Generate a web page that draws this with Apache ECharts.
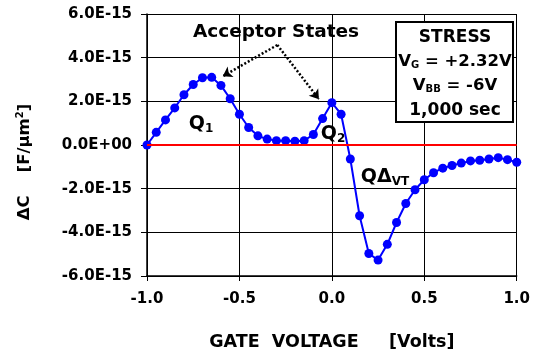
<!DOCTYPE html>
<html>
<head>
<meta charset="utf-8">
<script src="https://cdn.jsdelivr.net/npm/echarts@6/dist/echarts.min.js"></script>
<style>html,body{margin:0;padding:0;background:#fff;}#chart{width:533px;height:356px;}</style>
</head>
<body>
<div id="chart"></div>
<script>
// Gate voltage (V)
var gateVoltage = [-1.00,-0.95,-0.90,-0.85,-0.80,-0.75,-0.70,-0.65,-0.60,-0.55,-0.50,-0.45,-0.40,-0.35,-0.30,-0.25,-0.20,-0.15,-0.10,-0.05,0.00,0.05,0.10,0.15,0.20,0.25,0.30,0.35,0.40,0.45,0.50,0.55,0.60,0.65,0.70,0.75,0.80,0.85,0.90,0.95,1.00];
// Delta C in units of 1E-15 F/um^2
var deltaC = [0.00,0.58,1.15,1.70,2.30,2.77,3.08,3.10,2.73,2.12,1.41,0.80,0.42,0.27,0.20,0.20,0.17,0.20,0.48,1.21,1.94,1.41,-0.64,-3.24,-4.97,-5.27,-4.55,-3.55,-2.68,-2.05,-1.59,-1.27,-1.06,-0.94,-0.83,-0.73,-0.70,-0.64,-0.58,-0.67,-0.79];
var xTicks = [-1.0,-0.5,0.0,0.5,1.0];
var yTicks = [-6,-4,-2,0,2,4,6];
var stressLines = ['STRESS','V{s|G} = +2.32V','V{s|BB} = -6V','1,000 sec'];

var FONT = 'DejaVu Sans';
var chart = echarts.init(document.getElementById('chart'), null, {renderer:'canvas'});
var pts = gateVoltage.map(function(v,i){return [v, deltaC[i]];});

var subRich = {
  b:{fontFamily:FONT,fontWeight:'bold',fontSize:19,lineHeight:22,color:'#000'},
  s:{fontFamily:FONT,fontWeight:'bold',fontSize:12,lineHeight:11,verticalAlign:'bottom',color:'#000'}
};
var legRich = {
  s:{fontFamily:FONT,fontWeight:'bold',fontSize:10,lineHeight:10,verticalAlign:'bottom',color:'#000'}
};

var option = {
  animation:false,
  backgroundColor:'#fff',
  grid:{left:147,right:13,top:14,bottom:79},
  xAxis:{
    type:'value',min:xTicks[0],max:xTicks[xTicks.length-1],interval:0.5,
    axisLine:{onZero:false,lineStyle:{color:'#000',width:1.5}},
    axisTick:{show:true,length:5,lineStyle:{color:'#000',width:1}},
    splitLine:{show:true,lineStyle:{color:'#000',width:1}},
    axisLabel:{margin:16,fontFamily:FONT,fontWeight:'bold',fontSize:15,color:'#000',
      formatter:function(v){return v.toFixed(1);}},
    name:'GATE  VOLTAGE     [Volts]',nameLocation:'middle',nameGap:57,
    nameTextStyle:{fontFamily:FONT,fontWeight:'bold',fontSize:17.5,color:'#000'}
  },
  yAxis:{
    type:'value',min:yTicks[0],max:yTicks[yTicks.length-1],interval:2,
    axisLine:{onZero:false,lineStyle:{color:'#000',width:1.5}},
    axisTick:{show:true,length:6,lineStyle:{color:'#000',width:1}},
    splitLine:{show:true,lineStyle:{color:'#000',width:1}},
    axisLabel:{margin:15,fontFamily:FONT,fontWeight:'bold',fontSize:15,color:'#000',
      formatter:function(v){return v===0?'0.0E+00':v.toFixed(1)+'E-15';}}
  },
  series:[
    {
      type:'line',data:[],z:1,silent:true,
      markLine:{silent:true,symbol:['none','none'],label:{show:false},
        lineStyle:{color:'#ff0000',width:2,type:'solid'},
        data:[{yAxis:0}]}
    },
    {
      type:'line',data:pts,z:3,
      symbol:'circle',symbolSize:9,
      lineStyle:{color:'#0000ff',width:2},
      itemStyle:{color:'#0000ff'},
      markLine:{silent:true,label:{show:false},symbolSize:9,
        lineStyle:{color:'#000',width:2.5,type:[2,2]},
        data:[
          [{coord:[-0.295,4.58],symbol:'none'},{coord:[-0.59,3.15],symbol:'arrow'}],
          [{coord:[-0.295,4.58],symbol:'none'},{coord:[-0.07,2.1],symbol:'arrow'}]
        ]}
    }
  ],
  graphic:[
    {type:'text',x:276,y:32,style:{text:'Acceptor States',fontFamily:FONT,fontWeight:'bold',fontSize:18.5,fill:'#000',align:'center',verticalAlign:'middle'}},
    {type:'text',x:201,y:124,style:{text:'{b|Q}{s|1}',rich:subRich,align:'center',verticalAlign:'middle'}},
    {type:'text',x:333,y:134,style:{text:'{b|Q}{s|2}',rich:subRich,align:'center',verticalAlign:'middle'}},
    {type:'text',x:385,y:177,style:{text:'{b|QΔ}{s|VT}',rich:subRich,align:'center',verticalAlign:'middle'}},
    {type:'text',x:25,y:162,rotation:Math.PI/2,style:{
      text:'{b|ΔC    [F/μm}{p|2}{b|]}',align:'center',verticalAlign:'middle',
      rich:{b:{fontFamily:FONT,fontWeight:'bold',fontSize:16.5,lineHeight:20,color:'#000'},
            p:{fontFamily:FONT,fontWeight:'bold',fontSize:10,lineHeight:10,verticalAlign:'top',color:'#000'}}}},
    {type:'rect',shape:{x:396,y:22,width:117,height:100},style:{fill:'#fff',stroke:'#000',lineWidth:2},z:10},
    {type:'text',x:455,y:38,z:11,style:{text:stressLines[0],fontFamily:FONT,fontWeight:'bold',fontSize:17,fill:'#000',align:'center',verticalAlign:'middle'}},
    {type:'text',x:455,y:62,z:11,style:{text:stressLines[1],rich:legRich,fontFamily:FONT,fontWeight:'bold',fontSize:16.5,fill:'#000',align:'center',verticalAlign:'middle'}},
    {type:'text',x:455,y:86,z:11,style:{text:stressLines[2],rich:legRich,fontFamily:FONT,fontWeight:'bold',fontSize:16.5,fill:'#000',align:'center',verticalAlign:'middle'}},
    {type:'text',x:455,y:111,z:11,style:{text:stressLines[3],fontFamily:FONT,fontWeight:'bold',fontSize:17,fill:'#000',align:'center',verticalAlign:'middle'}}
  ]
};
chart.setOption(option);
</script>
</body>
</html>
